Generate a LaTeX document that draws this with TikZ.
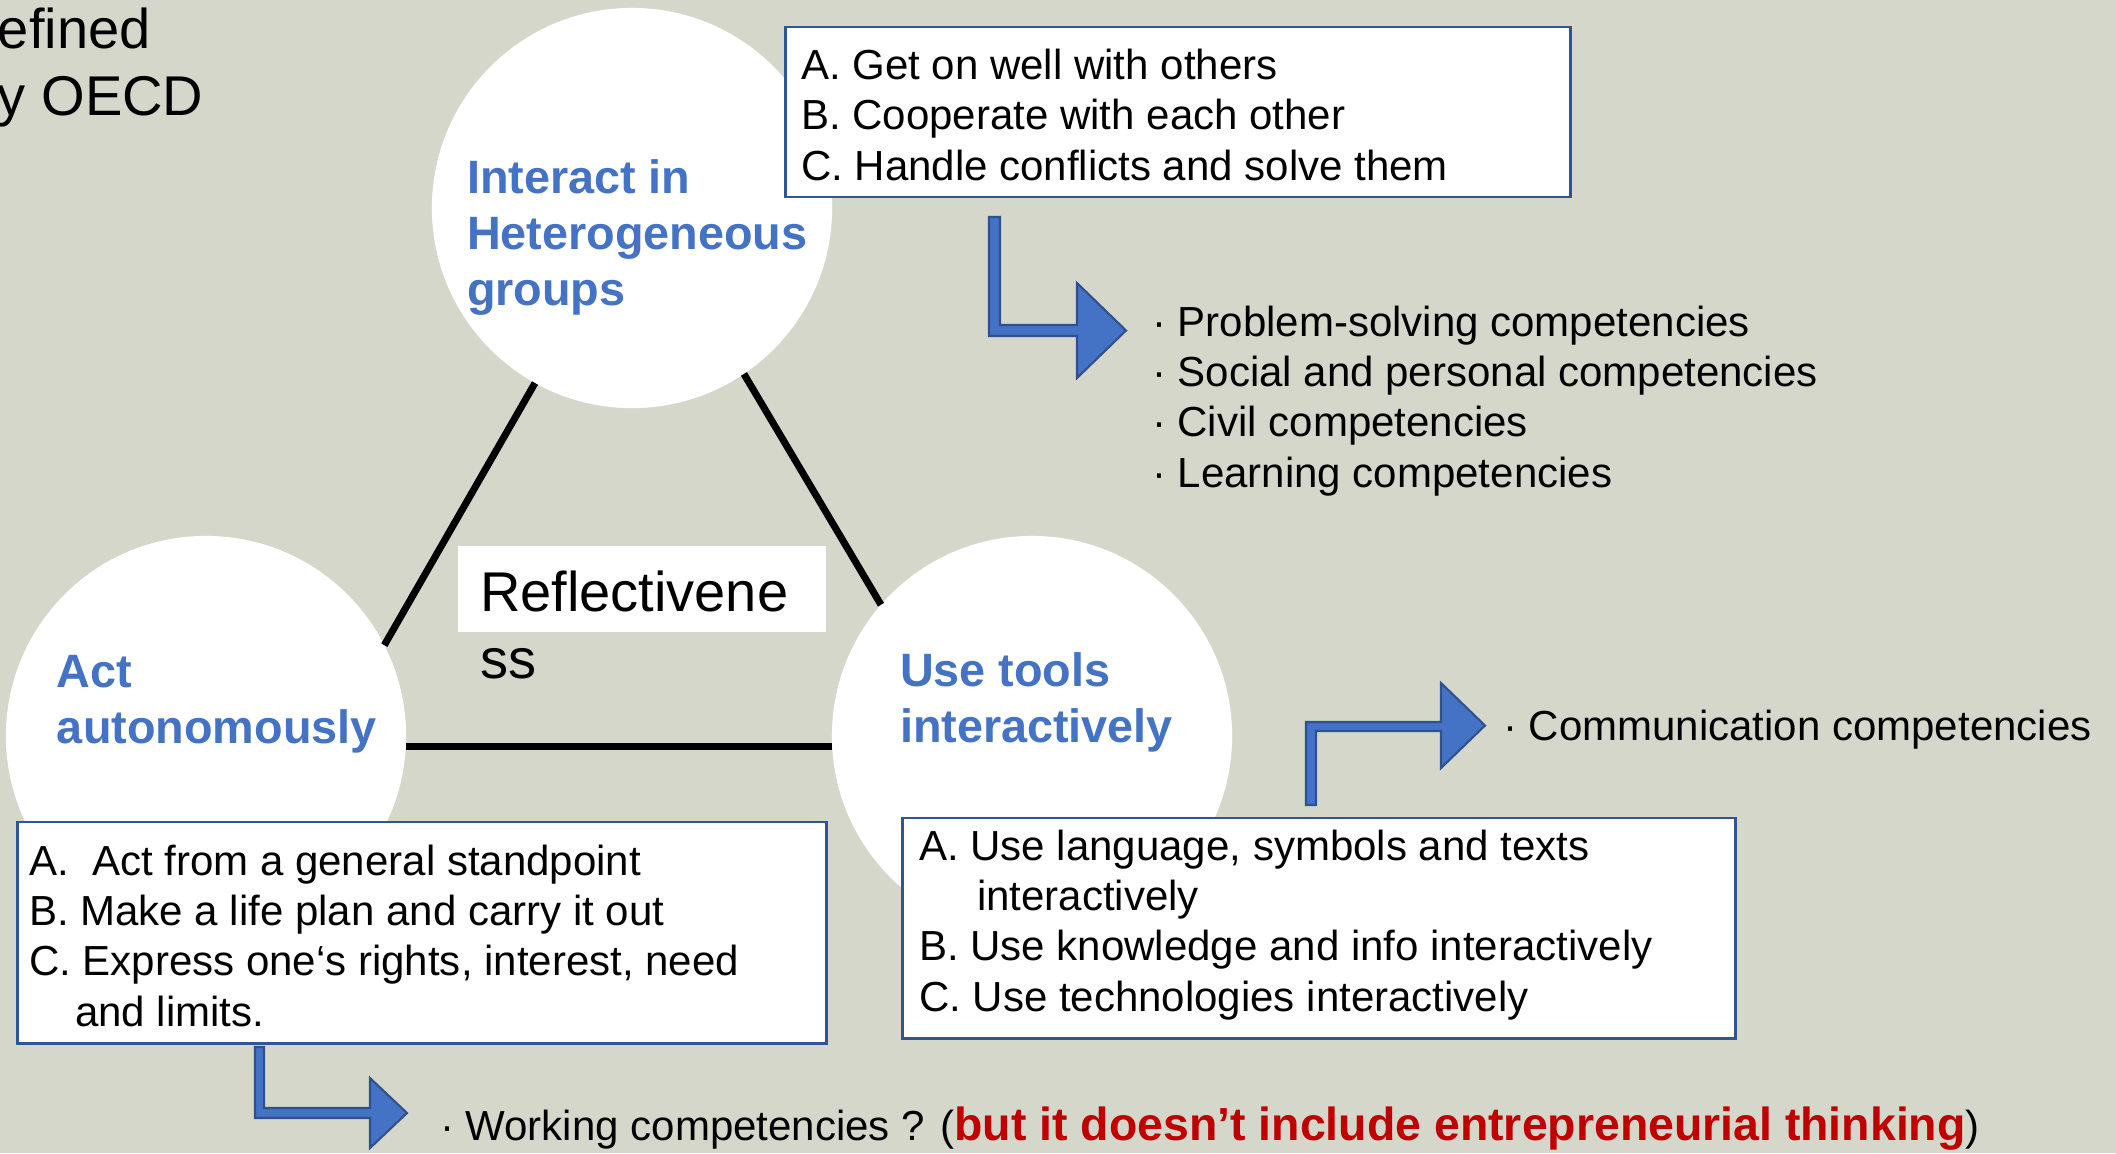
\documentclass[tikz,border=0pt]{standalone}
\usepackage{fontspec}
\setmainfont{Liberation Sans}
\definecolor{bg}{HTML}{D5D7CB}
\definecolor{ttl}{HTML}{4472C4}
\definecolor{bdr}{HTML}{2F5597}
\definecolor{arrf}{HTML}{4472C4}
\definecolor{arrd}{HTML}{2F528F}
\definecolor{redtxt}{HTML}{C00000}
\begin{document}
\begin{tikzpicture}[x=0.01cm,y=-0.01cm,
  circ/.style={circle, fill=white, draw=none, minimum size=4cm, inner sep=0pt, outer sep=0pt},
  abox/.style={rectangle, fill=white, draw=bdr, line width=0.8pt, inner sep=0pt, outer sep=0pt},
  wbox/.style={rectangle, fill=white, draw=none, inner sep=0pt, outer sep=0pt},
  boxtxt/.style={anchor=base west, inner sep=0pt, outer sep=0pt, align=left, font=\fontsize{11.95pt}{14.23pt}\selectfont},
  ttltxt/.style={anchor=base west, inner sep=0pt, outer sep=0pt, align=left, text=ttl, font=\fontsize{13.3pt}{15.8pt}\selectfont\bfseries},
  bigtxt/.style={anchor=base west, inner sep=0pt, outer sep=0pt, align=left, font=\fontsize{15.93pt}{18.78pt}\selectfont},
  link/.style={line width=2pt, black},
  bent/.style={fill=arrf, draw=arrd, line width=0.6pt, line join=miter}
]
\useasboundingbox (0,0) rectangle (2116,1153);
\fill[bg] (0,0) rectangle (2116,1153);

% title fragment
\node[bigtxt] (title) at (-2,115) {efined\\y OECD};

% circles
\node[circ] (top) at (632,208) {};
\node[circ] (left) at (206,736) {};
\node[circ] (right) at (1032,736) {};

% triangle links
\draw[link] (top.241.5) -- (left.27);
\draw[link] (top.304.5) -- (right.139.3);
\draw[link] (left.-3.7) -- (right.183.7);

% circle titles
\node[ttltxt] (ttop) at (467,305) {Interact in\\Heterogeneous\\groups};
\node[ttltxt] (tleft) at (57,743) {Act\\autonomously};
\node[ttltxt] (tright) at (900,742) {Use tools\\interactively};

% reflectiveness
\node[wbox, minimum width=3.68cm, minimum height=0.86cm] (refbox) at (642,589) {};
\node[bigtxt] (reftxt) at (480,678) {Reflectivene\\ss};

% boxes
\node[abox, minimum width=7.84cm, minimum height=1.70cm] (box1) at (1178,112) {};
\node[boxtxt] (box1txt) at (801,180) {A. Get on well with others\\B. Cooperate with each other\\C. Handle conflicts and solve them};

\node[abox, minimum width=8.08cm, minimum height=2.21cm] (box2) at (422,932.5) {};
\node[boxtxt] (box2txt) at (29,1026) {A.\ \ Act from a general standpoint\\B. Make a life plan and carry it out\\C. Express one‘s rights, interest, need\\\hspace*{0.46cm}and limits.};

\node[abox, minimum width=8.32cm, minimum height=2.20cm] (box3) at (1319,928) {};
\node[boxtxt] (box3txt) at (919,1011) {A. Use language, symbols and texts\\\hspace*{0.58cm}interactively\\B. Use knowledge and info interactively\\C. Use technologies interactively};

% bent arrows
\draw[bent] (989,217) -- (1000,217) -- (1000,325) -- (1077,325) -- (1077,283) -- (1126,330.5) -- (1077,378) -- (1077,336) -- (989,336) -- cycle;
\draw[bent] (1306,805) -- (1306,722) -- (1441,722) -- (1441,683) -- (1485,725.5) -- (1441,768) -- (1441,731) -- (1316,731) -- (1316,805) -- cycle;
\draw[bent] (255,1047) -- (264,1047) -- (264,1108) -- (370,1108) -- (370,1078) -- (407,1113) -- (370,1148) -- (370,1118) -- (255,1118) -- cycle;

% competency lists
\node[boxtxt] (list1) at (1152,487) {· Problem-solving competencies\\· Social and personal competencies\\· Civil competencies\\· Learning competencies};
\node[boxtxt] (list2) at (1503,740) {· Communication competencies};
\node[boxtxt] (list3) at (440,1140) {· Working competencies ? ({\color{redtxt}\bfseries\fontsize{13.2pt}{15pt}\selectfont but it doesn’t include entrepreneurial thinking})};
\end{tikzpicture}
\end{document}
